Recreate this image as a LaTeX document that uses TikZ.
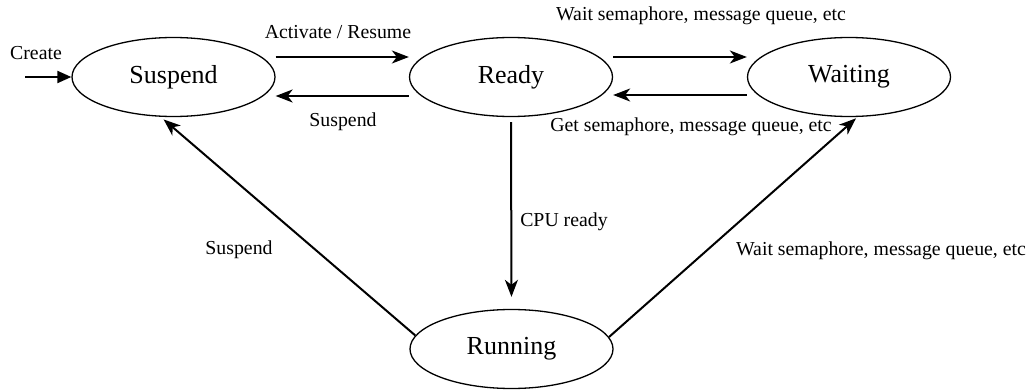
\documentclass[tikz,border=0pt]{standalone}
\usepackage{fontspec}
\setmainfont{Liberation Serif}
\usetikzlibrary{arrows.meta,shapes.geometric}
\begin{document}
\begin{tikzpicture}[x=1pt,y=-1pt,
  state/.style={draw, line width=1.3pt, ellipse, minimum width=203pt,
    minimum height=79pt, inner sep=0pt, font=\fontsize{26}{30}\selectfont},
  lbl/.style={inner sep=0pt, font=\fontsize{19.8}{23}\selectfont},
  trans/.style={line width=2pt, -{Stealth[length=17pt,width=13pt,inset=5pt]}},
  entry/.style={line width=2pt, -{Triangle[length=14pt,width=12pt]}},
]
\useasboundingbox (0,0) rectangle (1030,390);

% task states
\node[state] (susp)  at (173.5,77) {Suspend};
\node[state] (ready) at (511,77)   {Ready};
\node[state] (wait)  at (849,77)   {Waiting};
\node[state] (run)   at (511.5,349) {Running};
\coordinate (start) at (25,77);

% transitions
\draw[entry] (start) -- (susp.west);
\draw[trans] ([yshift=20pt]susp.east) -- ([yshift=20pt]ready.west);
\draw[trans] ([yshift=-19pt]ready.west) -- ([yshift=-19pt]susp.east);
\draw[trans] ([yshift=20pt]ready.east) -- ([yshift=20pt]wait.west);
\draw[trans] ([yshift=-18pt]wait.west) -- ([yshift=-18pt]ready.east);
\draw[trans, shorten <=5pt, shorten >=12pt] (ready.south) -- (run.north);
\draw[trans, shorten >=4pt] (run.172) -- (susp.252);
\draw[trans, shorten >=2pt] (run.7) -- (wait.282);

% transition labels
\node[lbl] (lcreate) at (36,53)   {Create};
\node[lbl] (lact)    at (338,32)  {Activate / Resume};
\node[lbl] (lsusp1)  at (343,122) {Suspend};
\node[lbl] (lwait1)  at (701,16)  {Wait semaphore, message queue, etc};
\node[lbl] (lget)    at (691,127) {Get semaphore, message queue, etc};
\node[lbl] (lcpu)    at (564,222) {CPU ready};
\node[lbl] (lsusp2)  at (239,250) {Suspend};
\node[lbl] (lwait2)  at (881,251) {Wait semaphore, message queue, etc};
\end{tikzpicture}
\end{document}
